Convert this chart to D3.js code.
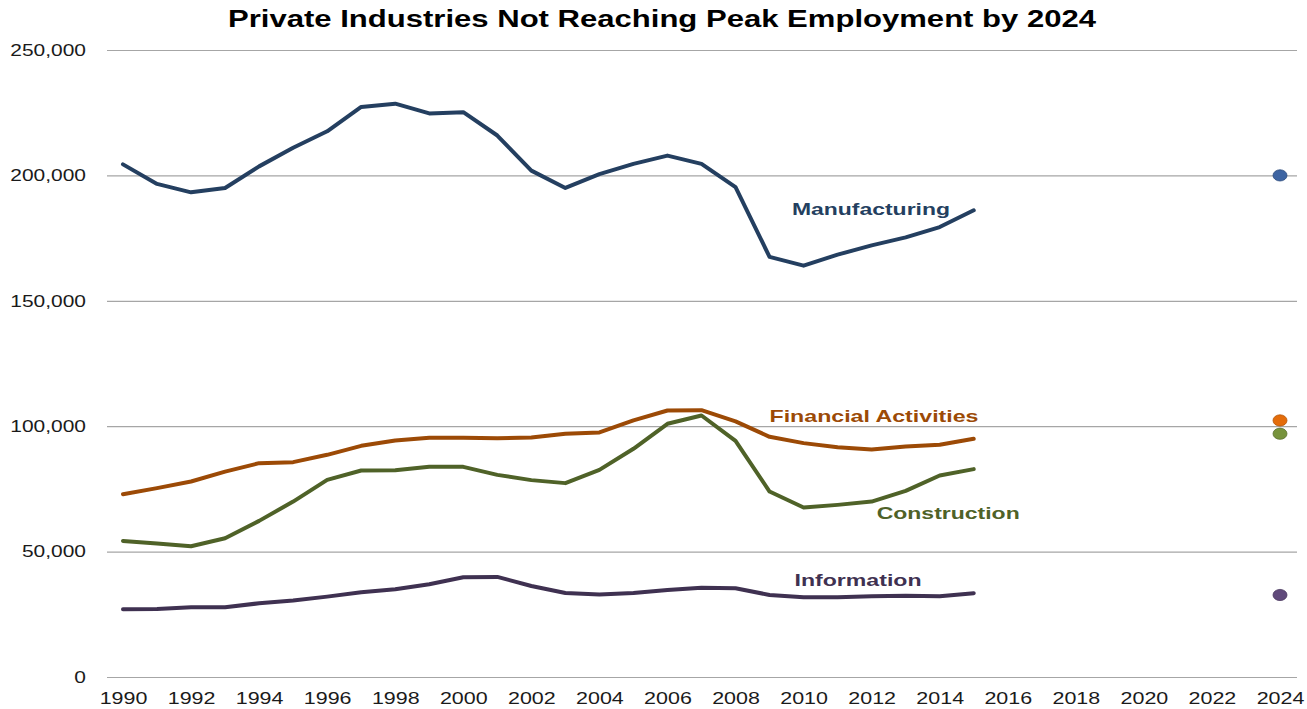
<!DOCTYPE html>
<html>
<head>
<meta charset="utf-8">
<script src="https://cdn.jsdelivr.net/npm/d3@7"></script>
<style>
  html, body { margin: 0; padding: 0; background: #fff; }
  svg { display: block; font-family: "Liberation Sans", Arial, Helvetica, sans-serif; }
</style>
</head>
<body>
<svg id="chart" width="1307" height="709"></svg>
<script>
const years = d3.range(1990, 2016);
const manufacturing = [204400, 196600, 193250, 195000, 203600, 211000, 217600, 227300, 228600, 224700, 225200, 215900, 201900, 195000, 200500, 204600, 207900, 204600, 195300, 167500, 164000, 168400, 172100, 175300, 179400, 186100];
const financial = [72900, 75300, 77950, 81900, 85260, 85670, 88590, 92180, 94300, 95370, 95400, 95200, 95500, 97000, 97500, 102300, 106270, 106400, 101900, 95770, 93250, 91650, 90700, 91900, 92600, 95000];
const construction = [54270, 53200, 52150, 55340, 62250, 69950, 78600, 82330, 82470, 83800, 83800, 80600, 78500, 77300, 82600, 91000, 100960, 104270, 94170, 73950, 67560, 68630, 69950, 74220, 80330, 82880];
const information = [27000, 27130, 27800, 27800, 29400, 30460, 32050, 33780, 34980, 36980, 39780, 39900, 36300, 33500, 32900, 33500, 34700, 35600, 35400, 32720, 31800, 31800, 32200, 32400, 32200, 33400];
const seriesNames = ["Manufacturing", "Financial Activities", "Construction", "Information"];
const peakYear = 2024;
const peakValues = [200000, 102300, 97000, 32700];
const yTicks = [0, 50000, 100000, 150000, 200000, 250000];
const xTicks = d3.range(1990, 2025, 2);
const titleText = "Private Industries Not Reaching Peak Employment by 2024";

const lineColors = ["#243f60", "#9c4a06", "#4f6228", "#3f3151"];
const dotColors = ["#3d64a2", "#e46c0a", "#77933c", "#604a7b"];
const dotStroke = ["#2b4a7c", "#b45508", "#5a7030", "#4a3960"];
// label anchors in data units [year, value] and target widths
const labelPos = [[2011.98, 184400, 158], [2012.07, 101800, 209], [2014.25, 63100, 143], [2011.6, 36300, 127]];

const seriesValues = [manufacturing, financial, construction, information];

const svg = d3.select("#chart");
const x = d3.scaleLinear().domain([1990, 2024]).range([123, 1280]);
const y = d3.scaleLinear().domain([0, 250000]).range([677, 50]);
const gridLeft = 107, gridRight = 1297;

function stretch(sel, k) {
  sel.each(function() {
    const w = this.getComputedTextLength();
    d3.select(this).attr("textLength", w * k).attr("lengthAdjust", "spacingAndGlyphs");
  });
}

// Y axis with gridlines
const yAxis = svg.append("g")
  .attr("transform", `translate(${gridLeft},0)`)
  .call(d3.axisLeft(y).tickValues(yTicks).tickFormat(d3.format(",")).tickSize(-(gridRight - gridLeft)).tickPadding(21));
yAxis.select(".domain").remove();
yAxis.selectAll(".tick line").attr("stroke", "#a6a6a6").attr("stroke-width", 1.2);
yAxis.selectAll(".tick text").attr("fill", "#1a1a1a").attr("font-size", "16.5px");
stretch(yAxis.selectAll(".tick text"), 1.27);

// X axis
const xAxis = svg.append("g")
  .attr("transform", `translate(0,677)`)
  .call(d3.axisBottom(x).tickValues(xTicks).tickFormat(d3.format("d")).tickSize(0).tickPadding(15));
xAxis.select(".domain").remove();
xAxis.selectAll(".tick text").attr("fill", "#1a1a1a").attr("font-size", "16.5px");
stretch(xAxis.selectAll(".tick text"), 1.3);

// Lines
const line = d3.line().x((d, i) => x(years[i])).y(d => y(d));
seriesValues.forEach((vals, s) => {
  svg.append("path")
    .datum(vals)
    .attr("d", line)
    .attr("fill", "none")
    .attr("stroke", lineColors[s])
    .attr("stroke-width", 4)
    .attr("stroke-linejoin", "round")
    .attr("stroke-linecap", "round");
});

// Peak dots
svg.selectAll("ellipse.peak")
  .data(peakValues)
  .join("ellipse")
  .attr("class", "peak")
  .attr("cx", x(peakYear))
  .attr("cy", d => y(d))
  .attr("rx", 7)
  .attr("ry", 5.6)
  .attr("fill", (d, i) => dotColors[i])
  .attr("stroke", (d, i) => dotStroke[i])
  .attr("stroke-width", 0.8);

// Series labels
svg.selectAll("text.series-label")
  .data(seriesNames)
  .join("text")
  .attr("class", "series-label")
  .attr("x", (d, i) => x(labelPos[i][0]))
  .attr("y", (d, i) => y(labelPos[i][1]))
  .attr("text-anchor", "middle")
  .attr("font-weight", "bold")
  .attr("font-size", "17px")
  .attr("fill", (d, i) => lineColors[i])
  .attr("textLength", (d, i) => labelPos[i][2])
  .attr("lengthAdjust", "spacingAndGlyphs")
  .text(d => d);

// Title
svg.append("text")
  .attr("x", 662)
  .attr("y", 27)
  .attr("text-anchor", "middle")
  .attr("font-weight", "bold")
  .attr("font-size", "23.5px")
  .attr("fill", "#000")
  .attr("textLength", 868)
  .attr("lengthAdjust", "spacingAndGlyphs")
  .text(titleText);
</script>
</body>
</html>
